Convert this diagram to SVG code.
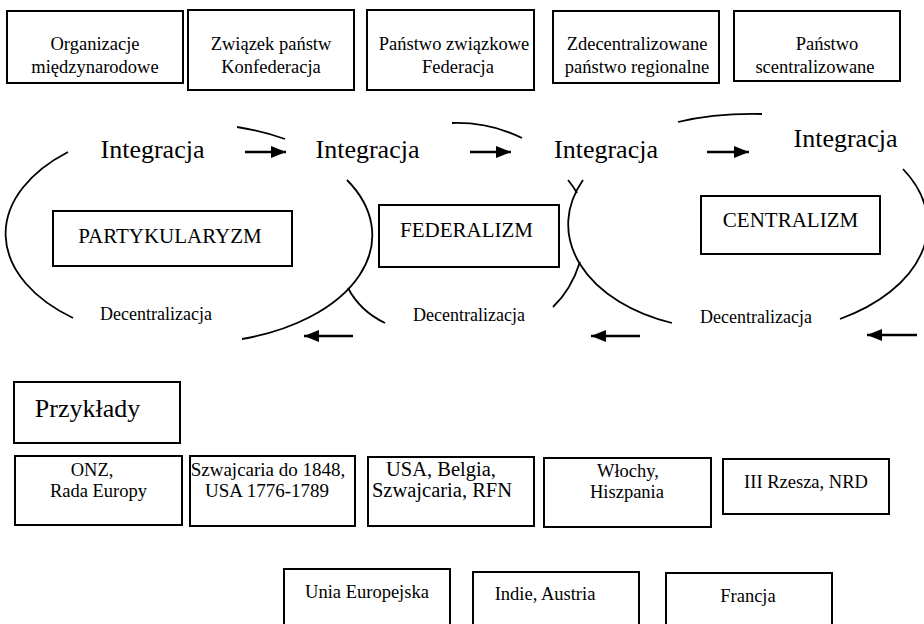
<svg xmlns="http://www.w3.org/2000/svg" width="924" height="624" viewBox="0 0 924 624" font-family="'Liberation Serif', 'DejaVu Serif', serif">
<defs>
<marker id="ah" markerUnits="userSpaceOnUse" markerWidth="16" markerHeight="14" refX="15" refY="7" orient="auto">
<path d="M0,1 L15,7 L0,13 Z" fill="#000"/>
</marker>
<style>
.box{fill:#fff;stroke:#000;stroke-width:2}
.t{fill:#000;text-anchor:middle}
.s18{font-size:18.5px}
.dec{font-size:18px}
.big{font-size:26px}
.mid{font-size:21px}
.arc{fill:none;stroke:#000;stroke-width:1.8}
.arr{fill:none;stroke:#000;stroke-width:2.4;marker-end:url(#ah)}
</style>
</defs>
<rect width="924" height="624" fill="#fff"/>

<g id="top-organizacje">
<rect class="box" x="7" y="11" width="176" height="72"/>
<text class="t s18" x="95" y="50">Organizacje</text>
<text class="t s18" x="95" y="73">międzynarodowe</text>
</g>
<g id="top-konfederacja">
<rect class="box" x="188" y="10" width="166" height="80"/>
<text class="t s18" x="271" y="50">Związek państw</text>
<text class="t s18" x="271" y="73">Konfederacja</text>
</g>
<g id="top-federacja">
<rect class="box" x="367" y="10" width="167" height="80"/>
<text class="t s18" x="454" y="50">Państwo związkowe</text>
<text class="t s18" x="458" y="73">Federacja</text>
</g>
<g id="top-regionalne">
<rect class="box" x="553" y="11" width="166" height="72"/>
<text class="t s18" x="637" y="50">Zdecentralizowane</text>
<text class="t s18" x="637" y="73">państwo regionalne</text>
</g>
<g id="top-scentralizowane">
<rect class="box" x="734" y="11" width="166" height="70"/>
<text class="t s18" x="827" y="50">Państwo</text>
<text class="t s18" x="815" y="73">scentralizowane</text>
</g>

<g id="connectors">
<path class="arc" d="M68,152 A180,108 0 0 0 73,318"/>
<path class="arc" d="M237,127 A180,108 0 0 1 285,139"/>
<path class="arc" d="M347,180 A180,108 0 0 1 242,339"/>
<path class="arc" d="M452,123 Q490,122 522,138"/>
<path class="arc" d="M348,288 Q360,311 385,323"/>
<path class="arc" d="M568,180 Q573,186 577,193"/>
<path class="arc" d="M580,262 Q571,290 553,307"/>
<path class="arc" d="M678,122 Q715,113 762,114"/>
<path class="arc" d="M583,180 A158,105 0 0 0 672,323"/>
<path class="arc" d="M903,169 A180,110 0 0 1 840,319"/>
<path class="arr" d="M245,152 L286,152"/>
<path class="arr" d="M470,152 L511,152"/>
<path class="arr" d="M707,152 L749,152"/>
<path class="arr" d="M353,336 L304,336"/>
<path class="arr" d="M640,336 L591,336"/>
<path class="arr" d="M917,335 L867,335"/>
</g>

<g id="integracja-1"><text class="t big" x="152.5" y="158">Integracja</text></g>
<g id="integracja-2"><text class="t big" x="367.5" y="158">Integracja</text></g>
<g id="integracja-3"><text class="t big" x="606" y="158">Integracja</text></g>
<g id="integracja-4"><text class="t big" x="845.5" y="147">Integracja</text></g>

<g id="partykularyzm">
<rect class="box" x="53" y="211" width="239" height="55"/>
<text class="t mid" x="170" y="243">PARTYKULARYZM</text>
</g>
<g id="federalizm">
<rect class="box" x="379" y="205" width="180" height="62"/>
<text class="t mid" x="466.5" y="237">FEDERALIZM</text>
</g>
<g id="centralizm">
<rect class="box" x="701" y="196" width="179" height="58"/>
<text class="t mid" x="790.5" y="227">CENTRALIZM</text>
</g>

<g id="decentralizacja-1"><text class="t dec" x="156" y="320">Decentralizacja</text></g>
<g id="decentralizacja-2"><text class="t dec" x="469" y="321">Decentralizacja</text></g>
<g id="decentralizacja-3"><text class="t dec" x="756" y="323">Decentralizacja</text></g>

<g id="przyklady">
<rect class="box" x="14" y="382" width="166" height="61"/>
<text class="t big" x="87.5" y="417">Przykłady</text>
</g>

<g id="ex-onz">
<rect class="box" x="15" y="456" width="167" height="69"/>
<text class="t s18" x="92" y="476">ONZ,</text>
<text class="t s18" x="98.5" y="497">Rada Europy</text>
</g>
<g id="ex-szwajcaria">
<rect class="box" x="190" y="456" width="165" height="70"/>
<text class="t" style="font-size:19px" x="268" y="476">Szwajcaria do 1848,</text>
<text class="t" style="font-size:19px" x="267" y="497">USA 1776-1789</text>
</g>
<g id="ex-usa">
<rect class="box" x="368" y="457" width="166" height="69"/>
<text class="t" style="font-size:20.5px" x="441" y="476">USA, Belgia,</text>
<text class="t" style="font-size:20.5px" x="442" y="497">Szwajcaria, RFN</text>
</g>
<g id="ex-wlochy">
<rect class="box" x="544" y="458" width="167" height="69"/>
<text class="t s18" x="628" y="477">Włochy,</text>
<text class="t s18" x="627" y="498">Hiszpania</text>
</g>
<g id="ex-rzesza">
<rect class="box" x="723" y="459" width="166" height="55"/>
<text class="t s18" x="806" y="488">III Rzesza, NRD</text>
</g>

<g id="ex-ue">
<rect class="box" x="284" y="569" width="166" height="70"/>
<text class="t s18" x="367" y="598">Unia Europejska</text>
</g>
<g id="ex-indie">
<rect class="box" x="473" y="572" width="166" height="70"/>
<text class="t s18" x="545" y="600">Indie, Austria</text>
</g>
<g id="ex-francja">
<rect class="box" x="666" y="573" width="166" height="70"/>
<text class="t s18" x="748" y="602">Francja</text>
</g>
</svg>
